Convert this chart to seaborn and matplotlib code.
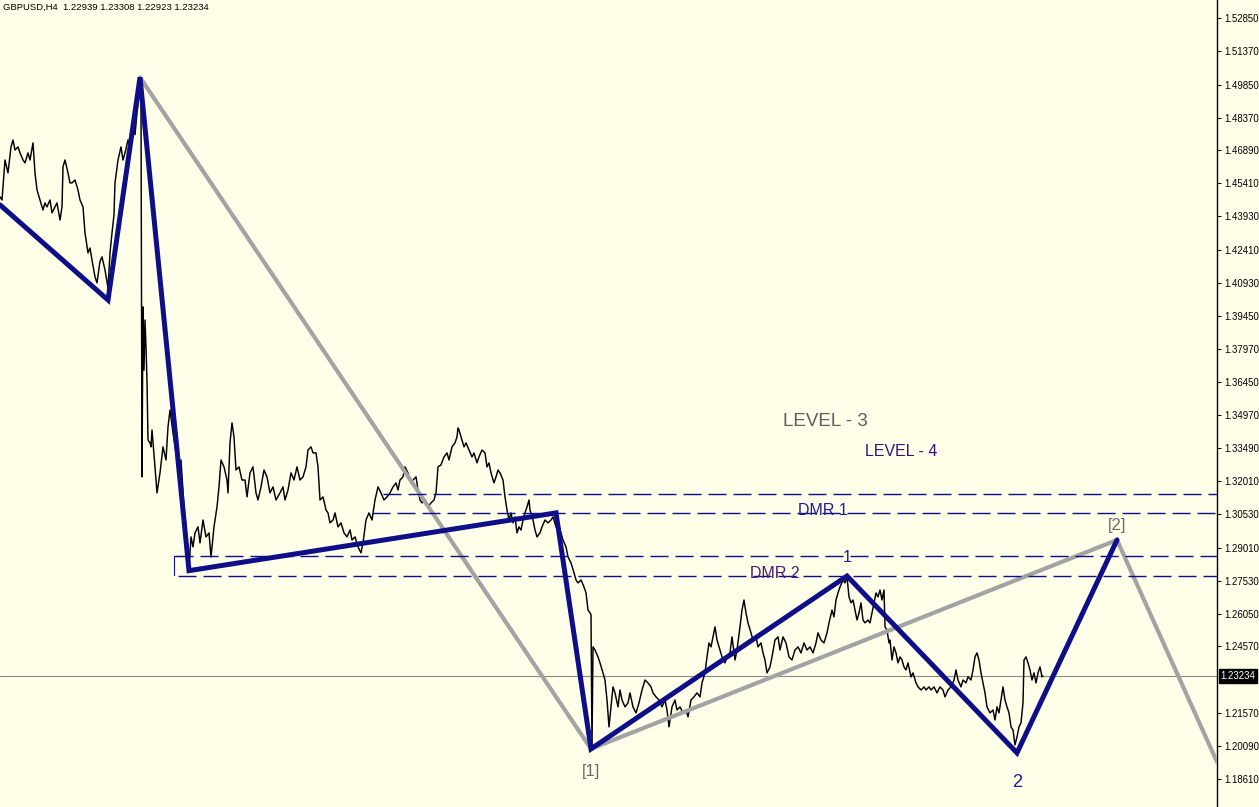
import matplotlib
matplotlib.use("Agg")
import matplotlib.pyplot as plt
import seaborn as sns
import pandas as pd

# --- GBPUSD H4 closes (bar index, price) ---
bars = [
    0, 2, 5, 8, 11, 13, 15, 18, 20, 23,
    25, 28, 30, 33, 35, 37, 40, 43, 45, 47,
    50, 52, 55, 57, 60, 62, 63, 65, 68, 70,
    72, 75, 78, 80, 83, 85, 88, 90, 92, 95,
    97, 100, 102, 105, 108, 110, 112, 114, 115, 118,
    121, 123, 125, 128, 130, 133, 135, 137, 139, 140,
    141, 142, 143, 144, 145, 146, 147, 148, 150, 151,
    152, 155, 157, 160, 163, 166, 168, 170, 173, 176,
    178, 181, 184, 186, 188, 189, 191, 193, 195, 198,
    200, 203, 206, 209, 211, 214, 217, 219, 221, 224,
    227, 228, 230, 232, 234, 236, 239, 242, 245, 247,
    250, 253, 256, 258, 261, 264, 267, 270, 273, 276,
    280, 283, 285, 288, 291, 294, 297, 300, 303, 306,
    308, 311, 313, 316, 318, 320, 323, 326, 328, 330,
    333, 335, 338, 341, 344, 347, 350, 352, 355, 358,
    361, 363, 366, 369, 372, 375, 378, 381, 384, 387,
    390, 393, 396, 398, 400, 403, 405, 408, 411, 413,
    416, 418, 420, 422, 425, 428, 431, 434, 436, 438,
    441, 444, 447, 449, 452, 455, 457, 458, 459, 461,
    464, 466, 469, 472, 474, 477, 479, 482, 485, 487,
    489, 491, 494, 496, 498, 500, 503, 505, 507, 509,
    511, 513, 515, 517, 519, 521, 523, 525, 527, 529,
    530, 533, 535, 537, 540, 542, 545, 548, 551, 553,
    556, 558, 561, 563, 566, 568, 571, 574, 576, 578,
    581, 584, 586, 588, 590, 591, 592, 593, 595, 598,
    600, 603, 605, 607, 609, 611, 613, 615, 618, 620,
    622, 625, 628, 630, 633, 636, 639, 642, 645, 648,
    651, 653, 656, 659, 662, 665, 667, 669, 672, 675,
    677, 680, 683, 686, 688, 691, 694, 697, 700, 702,
    705, 707, 709, 711, 713, 715, 717, 720, 722, 725,
    727, 730, 732, 735, 737, 740, 742, 744, 746, 748,
    751, 753, 756, 758, 761, 763, 765, 767, 770, 772,
    775, 778, 780, 783, 786, 789, 792, 795, 798, 801,
    804, 807, 810, 813, 816, 818, 821, 824, 827, 829,
    832, 834, 836, 838, 840, 843, 845, 847, 849, 851,
    853, 855, 857, 859, 861, 863, 865, 868, 870, 872,
    874, 876, 878, 880, 882, 884, 885, 887, 889, 890,
    892, 894, 896, 898, 900, 902, 904, 906, 908, 911,
    913, 916, 918, 921, 924, 926, 929, 931, 934, 937,
    940, 943, 945, 948, 951, 954, 956, 958, 961, 963,
    966, 968, 971, 973, 975, 977, 979, 981, 983, 985,
    987, 990, 993, 995, 997, 999, 1001, 1003, 1005, 1007,
    1009, 1011, 1013, 1015, 1017, 1019, 1021, 1023, 1024, 1026,
    1028, 1030, 1032, 1034, 1036, 1038, 1040, 1042, 1043,
]
closes = [
    1.4480, 1.4466, 1.4646, 1.4588, 1.4705, 1.4736, 1.4691, 1.4705, 1.4678, 1.4646,
    1.4633, 1.4678, 1.4646, 1.4723, 1.4588, 1.4511, 1.4466, 1.4421, 1.4453, 1.4435,
    1.4466, 1.4408, 1.4435, 1.4453, 1.4376, 1.4435, 1.4615, 1.4646, 1.4588, 1.4543,
    1.4543, 1.4556, 1.4511, 1.4466, 1.4435, 1.4318, 1.4228, 1.4250, 1.4196, 1.4120,
    1.4093, 1.4190, 1.4210, 1.4151, 1.4070, 1.4228, 1.4318, 1.4400, 1.4543, 1.4646,
    1.4705, 1.4646, 1.4678, 1.4736, 1.4705, 1.4795, 1.4760, 1.4858, 1.4930, 1.5018,
    1.4900, 1.3220, 1.3985, 1.3700, 1.3926, 1.3805, 1.3650, 1.3386, 1.3373, 1.3355,
    1.3431, 1.3265, 1.3148, 1.3238, 1.3355, 1.3296, 1.3445, 1.3521, 1.3418, 1.3328,
    1.3251, 1.3296, 1.3085, 1.2995, 1.2860, 1.2805, 1.2950, 1.2905, 1.2968, 1.2995,
    1.2923, 1.3026, 1.2950, 1.2968, 1.2860, 1.2995, 1.3085, 1.3175, 1.3296, 1.3265,
    1.3206, 1.3148, 1.3373, 1.3463, 1.3400, 1.3251, 1.3265, 1.3206, 1.3206, 1.3130,
    1.3238, 1.3265, 1.3148, 1.3116, 1.3175, 1.3251, 1.3220, 1.3148, 1.3175, 1.3116,
    1.3148, 1.3175, 1.3116, 1.3161, 1.3238, 1.3206, 1.3265, 1.3206, 1.3220, 1.3265,
    1.3341, 1.3355, 1.3328, 1.3328, 1.3265, 1.3116, 1.3130, 1.3071, 1.3058, 1.3013,
    1.3026, 1.3058, 1.2995, 1.3013, 1.2968, 1.2950, 1.2981, 1.2936, 1.2950, 1.2905,
    1.2878, 1.2923, 1.3026, 1.3058, 1.3026, 1.3116, 1.3175, 1.3148, 1.3116, 1.3130,
    1.3148, 1.3175, 1.3193, 1.3161, 1.3206, 1.3220, 1.3265, 1.3238, 1.3193, 1.3206,
    1.3220, 1.3161, 1.3116, 1.3103, 1.3116, 1.3085, 1.3103, 1.3116, 1.3148, 1.3265,
    1.3274, 1.3310, 1.3328, 1.3296, 1.3355, 1.3373, 1.3400, 1.3440, 1.3431, 1.3400,
    1.3355, 1.3373, 1.3341, 1.3310, 1.3328, 1.3283, 1.3310, 1.3341, 1.3328, 1.3265,
    1.3283, 1.3238, 1.3193, 1.3220, 1.3251, 1.3238, 1.3206, 1.3130, 1.3071, 1.3026,
    1.3058, 1.3013, 1.3040, 1.2968, 1.2995, 1.2981, 1.3026, 1.3058, 1.3085, 1.3116,
    1.3071, 1.3026, 1.2981, 1.2950, 1.2968, 1.2995, 1.3026, 1.3013, 1.3026, 1.3040,
    1.2995, 1.3013, 1.2968, 1.2936, 1.2905, 1.2860, 1.2833, 1.2788, 1.2756, 1.2743,
    1.2756, 1.2725, 1.2698, 1.2621, 1.2608, 1.2600, 1.2005, 1.2455, 1.2441, 1.2410,
    1.2383, 1.2338, 1.2306, 1.2216, 1.2095, 1.2185, 1.2275, 1.2248, 1.2185, 1.2261,
    1.2216, 1.2185, 1.2203, 1.2248, 1.2185, 1.2158, 1.2203, 1.2261, 1.2306, 1.2293,
    1.2275, 1.2248, 1.2230, 1.2216, 1.2185, 1.2216, 1.2171, 1.2095, 1.2185, 1.2216,
    1.2171, 1.2185, 1.2158, 1.2171, 1.2140, 1.2216, 1.2230, 1.2248, 1.2230, 1.2293,
    1.2338, 1.2410, 1.2473, 1.2455, 1.2500, 1.2545, 1.2486, 1.2441, 1.2410, 1.2383,
    1.2410, 1.2428, 1.2500, 1.2396, 1.2441, 1.2545, 1.2621, 1.2666, 1.2608, 1.2563,
    1.2518, 1.2486, 1.2500, 1.2455, 1.2473, 1.2428, 1.2396, 1.2338, 1.2365, 1.2410,
    1.2486, 1.2500, 1.2441, 1.2500, 1.2473, 1.2410, 1.2396, 1.2441, 1.2455, 1.2428,
    1.2473, 1.2441, 1.2455, 1.2428, 1.2473, 1.2518, 1.2486, 1.2473, 1.2518, 1.2563,
    1.2621, 1.2590, 1.2666, 1.2698, 1.2725, 1.2756, 1.2743, 1.2770, 1.2680, 1.2653,
    1.2666, 1.2621, 1.2576, 1.2608, 1.2653, 1.2576, 1.2563, 1.2576, 1.2563, 1.2608,
    1.2653, 1.2698, 1.2680, 1.2711, 1.2666, 1.2711, 1.2545, 1.2531, 1.2473, 1.2486,
    1.2396, 1.2455, 1.2428, 1.2383, 1.2410, 1.2396, 1.2365, 1.2351, 1.2383, 1.2320,
    1.2338, 1.2293, 1.2275, 1.2261, 1.2275, 1.2261, 1.2275, 1.2261, 1.2275, 1.2248,
    1.2275, 1.2261, 1.2230, 1.2261, 1.2275, 1.2306, 1.2351, 1.2306, 1.2275, 1.2306,
    1.2293, 1.2320, 1.2306, 1.2351, 1.2410, 1.2428, 1.2396, 1.2338, 1.2293, 1.2248,
    1.2185, 1.2158, 1.2171, 1.2126, 1.2185, 1.2158, 1.2216, 1.2275, 1.2216, 1.2185,
    1.2158, 1.2095, 1.2081, 1.2014, 1.2050, 1.2095, 1.2113, 1.2203, 1.2396, 1.2410,
    1.2383, 1.2351, 1.2306, 1.2338, 1.2293, 1.2338, 1.2365, 1.2320, 1.23234,
]
assert len(bars) == len(closes)

# --- wave counts ---
minor_bars = [0, 108, 140, 189, 556, 591, 847, 1017, 1117]
minor_prices = [1.4444, 1.4016, 1.5018, 1.2798, 1.3058, 1.1996, 1.2774, 1.1978, 1.2936]
major_bars = [140, 591, 1117, 1217]
major_prices = [1.5018, 1.1996, 1.2936, 1.1937]

# --- horizontal levels (dashed) ---
level_prices = [1.3142, 1.3058, 1.2864, 1.2774]
level_start = [383, 372, 175, 178]
box_bars = [190, 174, 174]
box_prices = [1.2864, 1.2864, 1.2778]

last_price = 1.23234
header = "GBPUSD,H4  1.22939 1.23308 1.22923 1.23234"

price_ticks = [1.52850, 1.51370, 1.49850, 1.48370, 1.46890, 1.45410, 1.43930,
               1.42410, 1.40930, 1.39450, 1.37970, 1.36450, 1.34970, 1.33490,
               1.32010, 1.30530, 1.29010, 1.27530, 1.26050, 1.24570, 1.21570,
               1.20090, 1.18610]

# text labels: (text, bar, price, size, colour, alignment)
labels = [
    ("LEVEL - 3", 783, 1.3467, 13.5, "#5e5e5e", "left"),
    ("LEVEL - 4", 865, 1.3336, 11.5, "#3a1078", "left"),
    ("DMR 1", 798, 1.3068, 11.5, "#1c1c96", "left"),
    ("DMR 2", 750, 1.2785, 11.5, "#4b1a6e", "left"),
    ("1", 847, 1.2857, 11.5, "#1c1c96", "center"),
    ("[1]", 591, 1.1892, 12, "#6a6a6a", "center"),
    ("2", 1017, 1.1843, 13, "#1c1c96", "center"),
    ("[2]", 1117, 1.3001, 12, "#6a6a6a", "center"),
]

BG = "#fffee9"
NAVY = "#0e0e88"

sns.set_style("white", {"axes.facecolor": BG, "figure.facecolor": BG})
plt.rcParams["font.family"] = ["Liberation Sans", "DejaVu Sans"]

fig = plt.figure(figsize=(12.59, 8.07), dpi=100)
ax = fig.add_axes([0, 0, 1217 / 1259, 1])

price = pd.DataFrame({"bar": bars, "close": closes})
sns.lineplot(data=price, x="bar", y="close", color="black", lw=1.05,
             estimator=None, sort=False, ax=ax, zorder=2)

ax.axhline(last_price, color="#8a8a8a", lw=0.8, zorder=1)

# big degree (grey) and small degree (navy) zigzags
ax.plot(major_bars, major_prices, color="#a3a3a3", lw=3.0, zorder=3,
        solid_joinstyle="miter")
ax.plot(minor_bars, minor_prices, color=NAVY, lw=3.6, zorder=4,
        solid_joinstyle="miter")

for p, x0 in zip(level_prices, level_start):
    ax.plot([x0, 1217], [p, p], color=NAVY, lw=1.0, dashes=(13, 5), zorder=5)
ax.plot(box_bars, box_prices, color=NAVY, lw=0.8, zorder=5)

for txt, x, y, size, col, ha in labels:
    ax.text(x, y, txt, fontsize=size, color=col, ha=ha, va="center", zorder=6)

ax.set_xlim(0, 1217)
ax.set_ylim(1.17345, 1.5366)
ax.set_xticks([])
ax.set_xlabel("")
ax.set_ylabel("")

ax.yaxis.tick_right()
ax.set_yticks(price_ticks)
ax.set_yticklabels([f"{t:.5f}" for t in price_ticks])
ax.tick_params(axis="y", direction="out", length=3, width=0.7, pad=2.5,
               labelsize=6.9, colors="black")
for side in ["top", "left", "bottom"]:
    ax.spines[side].set_visible(False)
ax.spines["right"].set_color("black")
ax.spines["right"].set_linewidth(1.0)

# current price flag on the axis
ax.text(1.003, last_price, f"{last_price:.5f}", transform=ax.get_yaxis_transform(),
        fontsize=6.9, color="white", ha="left", va="center", clip_on=False,
        bbox=dict(boxstyle="square,pad=0.18", fc="black", ec="black"))

fig.text(3 / 1259, 1 - 3 / 807, header, fontsize=6.8, color="black",
         ha="left", va="top")

fig.savefig("out.png", dpi=100, facecolor=BG)
